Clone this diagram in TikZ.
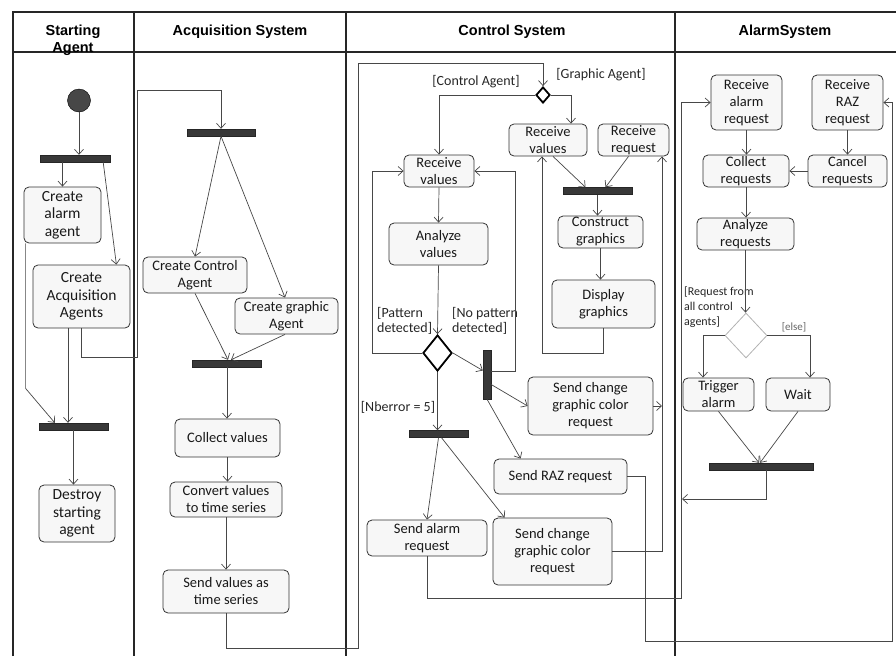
\documentclass[tikz,border=0pt]{standalone}
\usepackage{fontspec}
\setmainfont{Carlito}
\newfontfamily\headfont{Liberation Sans}
\usetikzlibrary{arrows.meta,shapes.geometric,calc}

\tikzset{
  act/.style={draw=black!80, line width=0.8pt, rounded corners=5pt, fill=gray!6,
    text=black!90, align=center, inner sep=0pt, font=\fontsize{14.5}{17}\selectfont},
  wh/.style 2 args={minimum width=#1, minimum height=#2},
  forkbar/.style={fill=black!78, draw=black!85, inner sep=0pt, minimum height=7},
  flow/.style={draw=black!72, line width=0.7pt, -{Straight Barb[length=5pt,width=9pt]}},
  guard/.style={text=black!85, font=\fontsize{14}{15}\selectfont, align=left, inner sep=0pt},
  lane/.style={line width=1.5pt, black!85},
  lanehead/.style={font=\headfont\bfseries\fontsize{14.5}{17}\selectfont, align=center}
}

\begin{document}
\begin{tikzpicture}[x=1pt, y=-1pt]
    \useasboundingbox (0,0) rectangle (896,656);

    % swimlanes
    \draw[lane] (13,656) -- (13,12) -- (896,12);
    \draw[lane] (13,52) -- (896,52);
    \draw[lane] (134,12) -- (134,656);
    \draw[lane] (346,12) -- (346,656);
    \draw[lane] (675,12) -- (675,656);
    \node[lanehead] (hstart) at (73,40) {Starting\\Agent};
    \node[lanehead] (hacq) at (240,32) {Acquisition System};
    \node[lanehead] (hctrl) at (512,32) {Control System};
    \node[lanehead] (halarm) at (785,32) {AlarmSystem};

    % Starting agent
    \node[circle, fill=black!72, draw=black, minimum size=23, inner sep=0] (init) at (79,100.5) {};
    \node[forkbar, minimum width=70] (fk1) at (75,158.5) {};
    \node[act, wh={77}{56}, font=\fontsize{15.5}{17.5}\selectfont] (alarmag) at (62.5,215) {Create\\alarm\\agent};
    \node[act, wh={97}{63}, font=\fontsize{15.5}{17.5}\selectfont] (acqag) at (81.5,296.5) {Create\\Acquisition\\Agents};
    \node[forkbar, minimum width=69] (jn1) at (73.5,426.5) {};
    \node[act, wh={76}{57}, font=\fontsize{15.5}{17.5}\selectfont] (destroy) at (77,513.5) {Destroy\\starting\\agent};

    \draw[flow] (init.south) -- (init.south |- fk1.north);
    \draw[flow] (alarmag.north |- fk1.south) -- (alarmag.north);
    \draw[flow] ($(fk1.south east)+(-7,0)$) -- ($(acqag.north east)+(-14,0)$);
    \draw[flow] ($(alarmag.south west)+(2,0)$) -- ++(0,145) -- ($(jn1.north west)+(16,0)$);
    \draw[flow] ($(acqag.south)+(-13.5,0)$) -- ($(jn1.north)+(-5.5,0)$);
    \draw[flow] (jn1.south) -- (jn1.south |- destroy.north);

    % Acquisition system
    \node[forkbar, minimum width=68] (fk2) at (221,132.5) {};
    \node[act, wh={104}{36}] (ctrlag) at (195,275) {Create Control\\Agent};
    \node[act, wh={103}{36}] (grag) at (286.5,316) {Create graphic\\Agent};
    \node[forkbar, minimum width=69] (jn2) at (227,363.5) {};
    \node[act, wh={105}{38}] (collv) at (227.5,438) {Collect values};
    \node[act, wh={112}{35}] (convv) at (226,499.5) {Convert values\\to time series};
    \node[act, wh={126}{43}] (sendts) at (226,591.5) {Send values as\\time series};

    \draw[flow] (acqag.south) |- (137,357) -- (137,90) -| (fk2.north);
    \draw[flow] (fk2.south) -- (ctrlag.north);
    \draw[flow] (fk2.south) -- ($(grag.north)+(-1.5,0)$);
    \draw[flow] (ctrlag.south) -- ($(jn2.north)+(1,0)$);
    \draw[flow] ($(grag.south)+(-1.5,0)$) -- ($(jn2.north)+(4,0)$);
    \draw[flow] (jn2.south) -- (jn2.south |- collv.north);
    \draw[flow] (collv.south) -- (collv.south |- convv.north);
    \draw[flow] (convv.south) -- (sendts.north);

    % Control system
    \node[diamond, draw=black, line width=1.8pt, minimum width=14, minimum height=16, inner sep=0] (dsplit) at (543,95) {};
    \node[guard] (gctrl) at (476,82) {[Control Agent]};
    \node[guard] (ggraph) at (601,75) {[Graphic Agent]};
    \node[act, wh={70}{32}] (recvc) at (439,171) {Receive\\values};
    \node[act, wh={99}{42}] (anav) at (438.5,244) {Analyze\\values};
    \node[diamond, draw=black, line width=1.8pt, fill=white, minimum width=29, minimum height=36, inner sep=0] (dpat) at (437.5,353) {};
    \node[guard, anchor=west] (gpat) at (377,321) {[Pattern\\detected]};
    \node[guard, anchor=west] (gnopat) at (452,321) {[No pattern\\detected]};
    \node[forkbar, minimum width=8, minimum height=49] (fkv) at (487,374.5) {};
    \node[act, wh={125}{58}] (chg1) at (590.5,406) {Send change\\graphic color\\request};
    \node[act, wh={133}{35}] (sraz) at (560.5,476.5) {Send RAZ request};
    \node[guard] (gnb) at (398,407) {[Nberror = 5]};
    \node[forkbar, minimum width=59] (fk3) at (438.5,434) {};
    \node[act, wh={120}{36}] (salarm) at (427,538) {Send alarm\\request};
    \node[act, wh={119}{67}] (chg2) at (552.5,551.5) {Send change\\graphic color\\request};

    % Graphic agent
    \node[act, wh={78}{32}] (recvg) at (548,140) {Receive\\values};
    \node[act, wh={71}{32}] (recvr) at (633.5,140) {Receive\\request};
    \node[forkbar, minimum width=69] (jn3) at (597.5,191) {};
    \node[act, wh={85}{32}] (constr) at (600.5,232) {Construct\\graphics};
    \node[act, wh={103}{48}] (disp) at (603.5,304) {Display\\graphics};
    \coordinate (gbus) at (662,400);

    \draw[flow] (sendts.south) |- (358,648) -- (358,63) -| (dsplit.north);
    \draw[flow] (dsplit.west) -| (recvc.north);
    \draw[flow] (dsplit.east) -| ($(recvg.north)+(23,0)$);
    \draw[flow] (recvc.south) -- (anav.north);
    \draw[flow] (anav.south) -- (dpat.north);
    \draw[flow] (dpat.west) -| ($(recvc.west)+(-31,0)$) -- (recvc.west);
    \draw[flow] (dpat.east) -- ($(fkv.west)+(0,-4)$);
    \draw[flow] ($(fkv.east)+(0,-3.5)$) -| ($(recvc.east)+(41,0)$) -- (recvc.east);
    \draw[flow] ($(fkv.east)+(0,10)$) -- (chg1.west);
    \draw[flow] (fkv.south) -- ($(sraz.north west)+(27,0)$);
    \draw[flow] (dpat.south) -- (dpat.south |- fk3.north);
    \draw[flow] (fk3.south) -- (salarm.north);
    \draw[flow] ($(fk3.south)+(3,0)$) -- ($(chg2.north west)+(12,0)$);

    \draw[flow] ($(recvg.south)+(5,0)$) -- ($(jn3.north)+(-12,0)$);
    \draw[flow] ($(recvr.south)+(-5,0)$) -- ($(jn3.north)+(8,0)$);
    \draw[flow] (jn3.south) -- (jn3.south |- constr.north);
    \draw[flow] (constr.south) -- (constr.south |- disp.north);
    \draw[flow] (disp.south) -- ++(0,25) -| ($(recvg.south)+(-6,0)$);
    \draw[flow] (chg2.east) -| (gbus |- recvr.south);
    \draw[flow] (chg1.east) -- (chg1.east -| gbus);

    % Alarm system
    \node[act, wh={71}{55}] (recva) at (746.5,102.5) {Receive\\alarm\\request};
    \node[act, wh={71}{55}] (recvz) at (847.5,102.5) {Receive\\RAZ\\request};
    \node[act, wh={86}{32}] (collr) at (746,171) {Collect\\requests};
    \node[act, wh={79}{32}] (cancr) at (847.5,171) {Cancel\\requests};
    \node[act, wh={97}{32}] (anar) at (745.5,234) {Analyze\\requests};
    \node[diamond, draw=black!30, line width=0.8pt, minimum width=42, minimum height=45, inner sep=0] (dreq) at (746,335.5) {};
    \node[guard, font=\fontsize{12}{15}\selectfont, anchor=west] (gall) at (684,307) {[Request from\\all control\\agents]};
    \node[guard, font=\fontsize{11}{13}\selectfont, text=black!60] (gelse) at (794,327) {[else]};
    \node[act, wh={71}{33}] (trig) at (718.5,394.5) {Trigger\\alarm};
    \node[act, wh={64}{33}] (wait) at (798,394.5) {Wait};
    \node[forkbar, minimum width=104] (jn4) at (761,466.5) {};
    \coordinate (amerge) at (682,499);

    \draw[flow] (salarm.south) |- (681,598) |- (recva.west);
    \draw[flow] (sraz.east) -| (645,641) -| (892,102.5) -- (recvz.east);
    \draw[flow] (recva.south) -- (recva.south |- collr.north);
    \draw[flow] (recvz.south) -- (cancr.north);
    \draw[flow] (cancr.west) -- (collr.east);
    \draw[flow] (collr.south) -- (collr.south |- anar.north);
    \draw[flow] (anar.south) -- (anar.south |- dreq.north);
    \draw[flow] (dreq.west) -| ($(trig.north)+(-15.5,0)$);
    \draw[flow] (dreq.east) -| ($(wait.north)+(12,0)$);
    \draw[flow] (trig.south) -- ($(jn4.north)+(-2,0)$);
    \draw[flow] (wait.south) -- ($(jn4.north)+(-1,0)$);
    \draw[flow] ($(jn4.south)+(5,0)$) |- (amerge);
\end{tikzpicture}
\end{document}
